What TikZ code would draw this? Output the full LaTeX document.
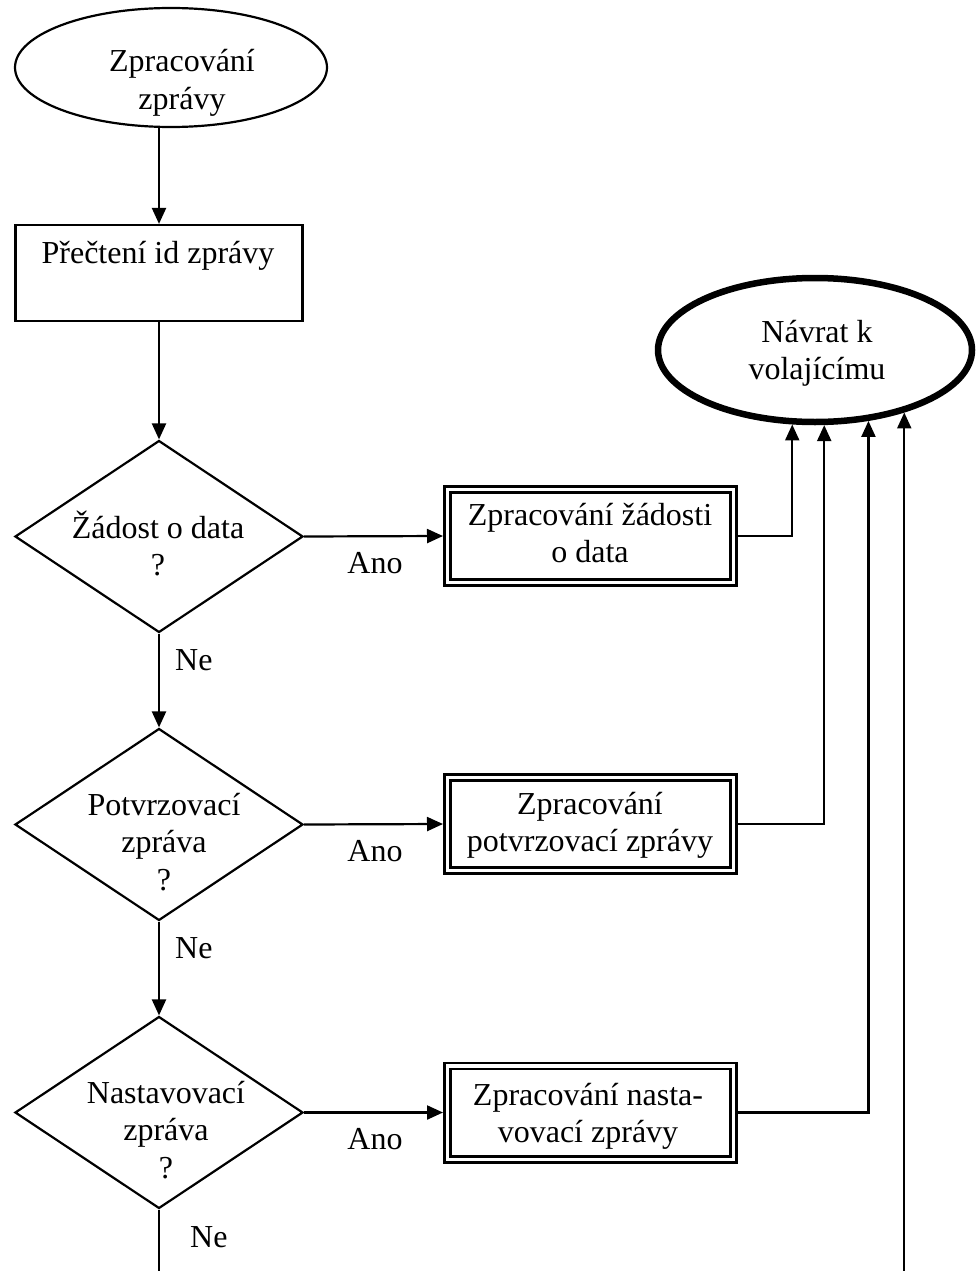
\documentclass[tikz,border=0pt]{standalone}
\usepackage{fontspec}
\setmainfont{Liberation Serif}
\usetikzlibrary{shapes.geometric,arrows.meta}
% centred multi-line text whose baseline is the first line
\newcommand{\lines}[1]{\begin{tabular}[t]{@{}c@{}}#1\end{tabular}}

\begin{document}
\begin{tikzpicture}[x=1pt,y=-1pt,
  every node/.style={font=\fontsize{32}{37.5}\selectfont},
  flow/.style={line width=2.2pt},
  arr/.style={flow,-{Triangle[length=16pt,width=14pt]}},
  term/.style={ellipse,draw,line width=2.2pt,inner sep=0pt,
    minimum width=312pt,minimum height=119pt},
  retterm/.style={ellipse,draw,line width=6.5pt,inner sep=0pt,
    minimum width=314pt,minimum height=144pt},
  proc/.style={rectangle,draw,line width=2.2pt,inner sep=0pt,
    minimum width=287pt,minimum height=96pt},
  subproc/.style={rectangle,draw,line width=2.7pt,double,
    double distance=3.3pt,outer sep=4.35pt,inner sep=0pt,
    minimum width=286.3pt,minimum height=93.3pt},
  decision/.style={diamond,draw,line width=2.2pt,inner sep=0pt,
    minimum width=288pt,minimum height=192pt},
  txt/.style={inner sep=0pt,anchor=base},
  edgelbl/.style={inner sep=0pt,anchor=base west},
]
\useasboundingbox (0,0) rectangle (977,1271);

% shapes
\node[term]     (e1) at (171,67.5) {};
\node[proc]     (b0) at (159,273) {};
\node[retterm]  (e2) at (815,350) {};
\node[decision] (d1) at (159,536.5) {};
\node[decision] (d2) at (159,824.5) {};
\node[decision] (d3) at (159,1112.5) {};
\node[subproc]  (b1) at (590.5,536) {};
\node[subproc]  (b2) at (590.5,824) {};
\node[subproc]  (b3) at (590.5,1112.5) {};

% texts
\node[txt] (e1t) at (182,72)    {\lines{Zpracování\\zprávy}};
\node[txt] (b0t) at (158,263)   {Přečtení id zprávy};
\node[txt] (e2t) at (817,342)   {\lines{Návrat k\\volajícímu}};
\node[txt] (d1t) at (158,538)   {\lines{Žádost o data\\?}};
\node[txt] (d2t) at (164,815)   {\lines{Potvrzovací\\zpráva\\?}};
\node[txt] (d3t) at (166,1103)  {\lines{Nastavovací\\zpráva\\?}};
\node[txt] (b1t) at (590,525)   {\lines{Zpracování žádosti\\o data}};
\node[txt] (b2t) at (590,814)   {\lines{Zpracování\\potvrzovací zprávy}};
\node[txt] (b3t) at (588,1105)  {\lines{Zpracování nasta-\\vovací zprávy}};

% branch labels
\node[txt] (a1) at (375,573.5)  {Ano};
\node[txt] (a2) at (375,861.5)  {Ano};
\node[txt] (a3) at (375,1149.5) {Ano};
\node[edgelbl] (n1) at (175,670)  {Ne};
\node[edgelbl] (n2) at (175,958)  {Ne};
\node[edgelbl] (n3) at (190,1247) {Ne};

% free ends leaving the bottom edge
\coordinate (cont) at (159,1275);
\coordinate (back) at (903,1275);

% main flow
\draw[arr] (b0.north |- e1.south) -- (b0.north);
\draw[arr] (b0.south) -- (d1.north);
\draw[arr] (d1.east) -- (b1.west);
\draw[arr] (d1.south) -- (d2.north);
\draw[arr] (d2.east) -- (b2.west);
\draw[arr] (d2.south) -- (d3.north);
\draw[arr] (d3.east) -- (b3.west);
\draw[flow] (d3.south) -- (cont);

% returns to the caller
\draw[arr] (b1.east) -| (e2.-107.2);
\draw[arr] (b2.east) -| (e2.-83.15);
\draw[arr] (b3.east) -| (e2.-53.76);
\draw[arr] (e2.-35.44 |- back) -- (e2.-35.44);
\end{tikzpicture}
\end{document}
